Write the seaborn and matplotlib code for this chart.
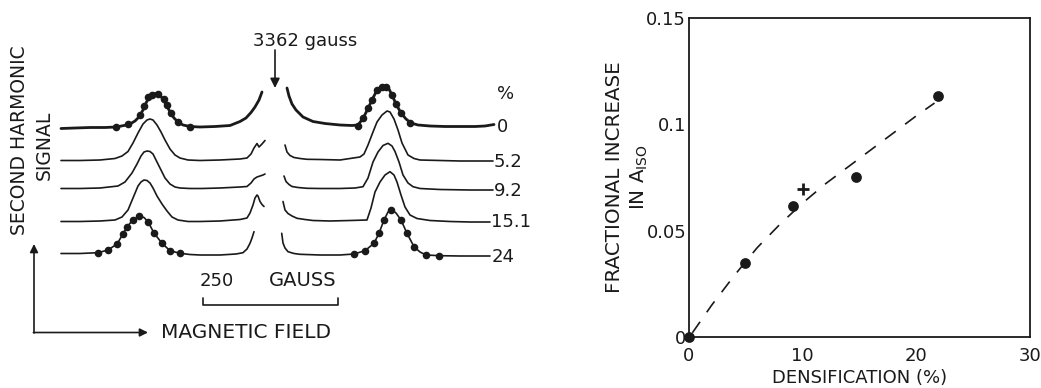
import numpy as np
import pandas as pd
import matplotlib
matplotlib.use("Agg")
import matplotlib.pyplot as plt
import seaborn as sns

# ---------------- data: left panel (traces, pixel units) ----------------
trace_labels = ["0", "5.2", "9.2", "15.1", "24"]

x0L = [61, 75, 90, 105, 116, 124, 130, 135, 139, 143, 146, 149, 152, 155, 158, 161, 164, 167, 170, 174, 178, 183, 190, 200, 215, 230, 240, 246, 251, 255, 259, 262]
y0L = [128.5, 128, 127.5, 127.5, 127, 125.5, 124, 121, 117, 110, 103, 97.5, 94.5, 93.5, 94, 96.5, 101, 106, 112, 118, 122, 125, 126.5, 127, 126.5, 125.5, 121.5, 118, 112.5, 107, 100, 92]
x0R = [287, 289, 292, 296, 303, 313, 325, 340, 352, 358, 363, 368, 372, 377, 381, 385, 389, 392, 396, 401, 406, 411, 418, 430, 445, 460, 475, 485, 494]
y0R = [88, 96, 104, 110, 117, 121.5, 123.5, 125, 125.5, 125, 118.5, 108.5, 100, 90, 87, 86.5, 89, 95, 104, 113, 119, 123, 125, 126, 126.5, 126.5, 126.5, 126, 124.5]

x1L = [61, 80, 100, 115, 122, 128, 133, 138, 143, 147, 150, 153, 157, 161, 165, 170, 175, 180, 188, 200, 220, 240, 247, 251, 254, 257, 259, 262, 265]
y1L = [160.5, 160.5, 160, 158.5, 156, 151.5, 143, 133, 124, 120, 119, 120, 125, 132, 140, 149, 155, 158, 160, 160.5, 160, 159, 158, 154, 148, 143.5, 147, 144, 140.5]
x1R = [285, 287, 290, 294, 300, 307, 320, 340, 360, 364, 368, 373, 377, 382, 387, 390, 394, 398, 402, 408, 414, 420, 440, 460, 480, 493]
y1R = [145, 152, 155.5, 157.5, 158.5, 159.3, 159.5, 160, 157, 154, 145, 132, 122, 115, 111, 112, 119, 130, 143, 155, 158.5, 160, 160.5, 161, 161, 161]

x2L = [61, 80, 100, 118, 125, 132, 137, 141, 144, 147, 150, 153, 156, 160, 165, 170, 175, 180, 190, 202, 220, 240, 247, 251, 254, 257, 260, 263, 265]
y2L = [188.5, 188.5, 188, 186, 182, 173, 164, 156, 152, 151, 151.5, 154, 160, 168, 178, 184, 187, 188, 188.5, 188.5, 188, 187, 186.5, 183, 179, 177, 176, 175, 174]
x2R = [284, 286, 289, 292, 298, 307, 320, 340, 355, 363, 368, 373, 378, 383, 388, 392, 395, 399, 403, 408, 413, 420, 440, 470, 493]
y2R = [176, 181.5, 184.5, 186.5, 187.5, 188.3, 188.5, 188.5, 188, 186.7, 178, 162, 152, 145.5, 143.3, 146, 151.5, 162, 175, 183, 186.7, 188.5, 189.5, 190, 190]

x3L = [61, 80, 100, 115, 122, 128, 133, 138, 141, 144, 147, 150, 153, 157, 162, 167, 172, 178, 188, 200, 220, 240, 247, 250, 253, 255, 257, 258, 260, 262, 264]
y3L = [221.5, 221.5, 221, 220, 217, 210, 198, 186, 182, 180, 180.5, 183, 188, 196, 204, 211, 217, 220, 221.5, 221.5, 221, 219.5, 218, 213, 205, 198, 195, 196, 201.5, 204.5, 206.5]
x3R = [283, 285, 288, 292, 297, 305, 313, 330, 350, 367, 371, 375, 380, 385, 390, 394, 397, 401, 405, 410, 417, 430, 450, 470, 490]
y3R = [201.5, 210, 213.5, 216, 218.3, 219.5, 220.5, 221, 220.5, 220, 208, 192, 182, 175, 171.7, 175, 182, 195, 207, 215, 218.5, 220.5, 221.5, 222, 222]

x4L = [61, 80, 98, 108, 117, 123, 127, 133, 139, 144, 148, 154, 162, 170, 180, 190, 200, 220, 236, 243, 247, 250, 252, 254]
y4L = [253.5, 253.5, 252.7, 250, 244, 234, 226.7, 220, 216, 217.5, 221.7, 233, 243.3, 250.7, 253.3, 254.5, 255, 255, 254, 252.7, 249, 243.3, 238, 231.7]
x4R = [281.7, 283, 285, 288, 294, 300, 320, 340, 354, 365, 374, 379, 384, 388, 392, 396, 401, 407, 414, 420, 426, 440, 460, 475, 490]
y4R = [233.3, 243, 248, 251.7, 253.5, 254.3, 255, 255, 254, 250.7, 243.3, 233.3, 220, 212, 210, 213, 220, 233.3, 246.7, 252, 255, 255.7, 256, 256, 256]

# fitted-point markers on the 0 % and 24 % traces
dots0_x = [116, 128, 140, 144, 148, 152, 158, 164, 167, 171, 178, 190, 358, 363, 368, 372, 377, 382, 386, 392, 396, 401, 410]
dots0_y = [127.3, 124, 115.3, 106, 97.3, 95, 94, 99, 105, 113.3, 121.7, 126.7, 125.7, 118.3, 108.3, 100, 90, 86.7, 86.7, 95, 104.3, 113.3, 123.3]
dots24_x = [98, 108, 117, 123, 127, 133, 139, 148, 154, 162, 170, 180, 354, 365, 374, 379, 384, 391, 401, 407, 414, 426, 439]
dots24_y = [252.7, 250, 244, 234, 226.7, 220, 216, 221.7, 233.3, 243.3, 250.7, 253.3, 254, 250.7, 243.3, 233.3, 220, 210, 220, 233.3, 246.7, 255, 255.7]

# ---------------- data: right panel ----------------
densification = [0.0, 4.95, 9.16, 14.66, 21.9]
frac_increase = [0.0, 0.035, 0.0614, 0.0752, 0.1135]
cross_x = [10.0]
cross_y = [0.0696]
fit_x = [0.3, 2, 4, 6, 8, 10, 12, 14, 16, 18, 20, 21.6]
fit_y = [0.002, 0.015, 0.029, 0.042, 0.053, 0.063, 0.072, 0.080, 0.088, 0.096, 0.104, 0.110]
xticks_major = [0, 10, 20, 30]
xticks_minor = [5, 15, 25]
yticks = [0, 0.05, 0.1, 0.15]
ytick_labels = ["0", "0.05", "0.1", "0.15"]

# ---------------- style ----------------
sns.set_style("white")
plt.rcParams["font.family"] = ["DejaVu Sans"]
plt.rcParams["mathtext.default"] = "regular"
INK = "#1a1a1a"
FS = 13

fig = plt.figure(figsize=(10.41, 3.88), dpi=100)

# Left panel: a canvas axis in pixel units
ax0 = fig.add_axes([0, 0, 1, 1])
ax0.set_xlim(0, 1041)
ax0.set_ylim(388, 0)
ax0.axis("off")

segments = [(x0L, y0L, x0R, y0R), (x1L, y1L, x1R, y1R), (x2L, y2L, x2R, y2R),
            (x3L, y3L, x3R, y3R), (x4L, y4L, x4R, y4R)]
for i, (xl, yl, xr, yr) in enumerate(segments):
    lw = 2.0 if i == 0 else 1.2
    for xs, ys in ((xl, yl), (xr, yr)):
        sns.lineplot(x=xs, y=ys, ax=ax0, color=INK, lw=lw, sort=False, estimator=None)

sns.scatterplot(x=dots0_x, y=dots0_y, ax=ax0, color=INK, s=30, edgecolor=INK, linewidth=0, zorder=5)
sns.scatterplot(x=dots24_x, y=dots24_y, ax=ax0, color=INK, s=30, edgecolor=INK, linewidth=0, zorder=5)

# trace labels
label_pos = [(497, 127), (494, 162), (494, 191), (491, 222), (492, 257)]
for lab, (lx, ly) in zip(trace_labels, label_pos):
    ax0.text(lx, ly, lab, fontsize=FS, color=INK, ha="left", va="center")
ax0.text(497, 94, "%", fontsize=FS, color=INK, ha="left", va="center")

# 3362 gauss marker
ax0.text(305, 41, "3362 gauss", fontsize=FS, color=INK, ha="center", va="center")
ax0.annotate("", xy=(275, 88), xytext=(275, 50),
             arrowprops=dict(arrowstyle="-|>", lw=1.2, color=INK, mutation_scale=14, shrinkA=0, shrinkB=0))

# scale bar
ax0.text(217, 281, "250", fontsize=FS, color=INK, ha="center", va="center")
ax0.text(303, 281, "GAUSS", fontsize=14, color=INK, ha="center", va="center")
ax0.plot([203, 203, 338, 338], [298, 304.5, 304.5, 298], color=INK, lw=1.2)

# axes arrows
ax0.annotate("", xy=(34, 244), xytext=(34, 333),
             arrowprops=dict(arrowstyle="-|>", lw=1.2, color=INK, mutation_scale=12, shrinkA=0, shrinkB=0))
ax0.annotate("", xy=(148, 332.5), xytext=(33.4, 332.5),
             arrowprops=dict(arrowstyle="-|>", lw=1.2, color=INK, mutation_scale=12, shrinkA=0, shrinkB=0))
ax0.text(246, 333, "MAGNETIC FIELD", fontsize=14.5, color=INK, ha="center", va="center")
ax0.text(20, 140, "SECOND HARMONIC", fontsize=13.5, color=INK, ha="center", va="center", rotation=90)
ax0.text(44, 145, "SIGNAL", fontsize=13.5, color=INK, ha="center", va="center", rotation=90)

# Right panel
ax = fig.add_axes([689 / 1041, 1 - 337 / 388, 341 / 1041, 319 / 388])
sns.lineplot(x=fit_x, y=fit_y, ax=ax, color=INK, lw=1.2, linestyle=(0, (8, 7)), sort=False, estimator=None)
sns.scatterplot(x=densification, y=frac_increase, ax=ax, color=INK, s=60, edgecolor=INK, linewidth=0, zorder=5, clip_on=False)
sns.scatterplot(x=cross_x, y=cross_y, ax=ax, color=INK, marker="+", s=70, linewidth=2, zorder=5)
ax.set_xlim(0, 30)
ax.set_ylim(0, 0.15)
ax.set_xticks(xticks_major)
ax.set_xticks(xticks_minor, minor=True)
ax.set_yticks(yticks)
ax.set_yticklabels(ytick_labels)
ax.tick_params(axis="both", which="both", direction="in", length=6, width=1.2, color=INK,
               labelsize=FS, labelcolor=INK)
ax.tick_params(axis="x", pad=7)
ax.tick_params(axis="y", pad=2)
for sp in ax.spines.values():
    sp.set_visible(True)
    sp.set_color(INK)
    sp.set_linewidth(1.3)
ax.set_xlabel("DENSIFICATION (%)", fontsize=FS, color=INK, labelpad=3)
ax.set_ylabel("FRACTIONAL INCREASE\nIN A$_{ISO}$", fontsize=14.3, color=INK, linespacing=1.3)
ax.yaxis.set_label_coords(-0.115, 0.5)

fig.savefig("out.png", dpi=100, facecolor="white")
